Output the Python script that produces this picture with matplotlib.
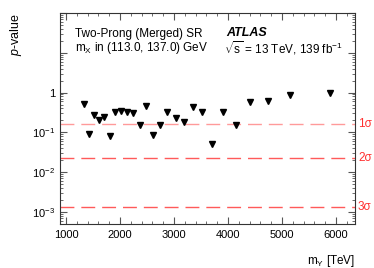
#!/usr/bin/env python3
# p-value scan, two-prong merged SR

import numpy as np
import matplotlib
matplotlib.use('Agg')
import matplotlib.pyplot as plt
from matplotlib.ticker import MultipleLocator, LogLocator, FixedLocator, NullFormatter

plt.rcParams['font.family'] = ['Liberation Sans', 'DejaVu Sans']
plt.rcParams['mathtext.fontset'] = 'custom'
plt.rcParams['mathtext.rm'] = 'Liberation Sans'
plt.rcParams['mathtext.it'] = 'Liberation Sans:italic'

# data
massY = [1340, 1430, 1520, 1610, 1710, 1815, 1905, 2010, 2125, 2240,
         2365, 2475, 2605, 2740, 2875, 3030, 3180, 3345, 3520, 3710,
         3915, 4150, 4415, 4735, 5155, 5895]
pValue = [0.53, 0.09, 0.275, 0.20, 0.24, 0.08, 0.33, 0.35, 0.32, 0.30,
          0.152, 0.46, 0.085, 0.152, 0.32, 0.23, 0.184, 0.44, 0.32, 0.051,
          0.32, 0.155, 0.57, 0.62, 0.88, 0.97]

sigmaLbls = ['1σ', '2σ', '3σ']
sigmaP = [0.1587, 0.02275, 0.00135]
sigmaColors = ['#ff9a9a', '#ff5a5a', '#ff5a5a']

fig = plt.figure(figsize=(3.74, 2.68), dpi=100)
ax = fig.add_axes([60/374, 1-224/268, 295/374, 211/268])

ax.set_yscale('log')
ax.set_xlim(890, 6350)
ax.set_ylim(5e-4, 100)

for (p, lbl, c) in zip(sigmaP, sigmaLbls, sigmaColors):
    ax.axhline(p, color=c, linewidth=1.0, dashes=(10, 5))
    ax.text(1.01, p, lbl, transform=ax.get_yaxis_transform(), color='#ff3030',
            fontsize=8.5, ha='left', va='center')

ax.plot(massY, pValue, linestyle='none', marker='v', color='k', markersize=5)

# ROOT-like ticks
ax.xaxis.set_major_locator(MultipleLocator(1000))
ax.xaxis.set_minor_locator(MultipleLocator(200))
ax.yaxis.set_major_locator(FixedLocator([1e-3, 1e-2, 1e-1, 1, 10, 100]))
ax.yaxis.set_minor_locator(LogLocator(base=10, subs=np.arange(2, 10), numticks=20))
ax.yaxis.set_minor_formatter(NullFormatter())
ax.set_yticklabels([r'$10^{-3}$', r'$10^{-2}$', r'$10^{-1}$', '1', '', ''])
ax.tick_params(which='both', direction='in', top=True, right=True, labelsize=8, color='#555555')
ax.tick_params(which='major', length=5, width=0.8)
ax.tick_params(which='minor', length=2.5, width=0.6)
ax.tick_params(axis='x', pad=4)
for s in ax.spines.values():
    s.set_linewidth(0.8)
    s.set_color('#333333')

ax.set_ylabel(r'$p$-value', fontsize=9, loc='top', labelpad=6)
ax.set_xlabel(r'm$_{\mathrm{Y}}$ [TeV]', fontsize=8.5, loc='right', labelpad=10)

ax.text(0.051, 0.90, 'Two-Prong (Merged) SR', transform=ax.transAxes, fontsize=8.5, va='center')
ax.text(0.051, 0.835, r'm$_{\mathrm{X}}$ in (113.0, 137.0) GeV', transform=ax.transAxes, fontsize=8.5, va='center')
ax.text(0.563, 0.905, 'ATLAS', transform=ax.transAxes, fontsize=9, fontweight='bold', style='italic', va='center')
ax.text(0.556, 0.832, r'$\sqrt{\mathrm{s}}$ = 13 TeV, 139 fb$^{\mathrm{-1}}$', transform=ax.transAxes, fontsize=8.5, va='center')

fig.savefig('out.png', dpi=100)
